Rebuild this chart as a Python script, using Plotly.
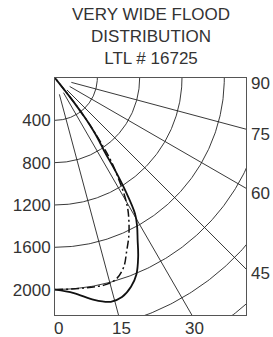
import numpy as np
import plotly.graph_objects as go

# ---- data ----
title_lines = ["VERY WIDE FLOOD", "DISTRIBUTION", "LTL # 16725"]

candela_ticks = [400, 800, 1200, 1600, 2000]
arc_levels = [400, 800, 1200, 1600, 2000, 2400, 2800]
ray_angles = [15, 30, 45, 60, 75]
right_labels = ["90", "75", "60", "45"]
right_label_angles = [90, 75, 60, 45]
bottom_labels = ["0", "15", "30"]
bottom_label_angles = [0, 15, 30]

solid_angles = [0, 5, 10, 14, 17, 20, 22.5, 25, 27, 29, 30.5, 32, 33, 34, 35, 36, 37, 38, 39]
solid_cd = [2000, 2040, 2130, 2180, 2165, 2100, 2010, 1860, 1720, 1600, 1490, 1250, 1050, 830, 730, 620, 480, 280, 0]

dash_angles = [0, 8, 14, 17, 20, 22.5, 25, 27, 29, 30.5, 32, 34, 35, 36, 37, 38, 39]
dash_cd = [2000, 2005, 2010, 1985, 1900, 1770, 1650, 1540, 1420, 1300, 1150, 950, 800, 650, 480, 280, 0]

# ---- layout constants ----
XMAX = 1805
YMAX = 2240
FONT = "Liberation Sans"
TXT = "#333333"


def polar_xy(angles_deg, r):
    a = np.radians(np.asarray(angles_deg, dtype=float))
    r = np.asarray(r, dtype=float)
    return r * np.sin(a), r * np.cos(a)


fig = go.Figure()

# concentric arcs
th = np.linspace(0, 90, 181)
for lvl in arc_levels:
    x, y = polar_xy(th, np.full_like(th, lvl))
    fig.add_trace(go.Scatter(x=x, y=y, mode="lines", line=dict(color="#222222", width=0.9),
                             hoverinfo="skip", showlegend=False))

# radial lines
for ang in ray_angles:
    x, y = polar_xy([ang, ang], [160, 4000])
    fig.add_trace(go.Scatter(x=x, y=y, mode="lines", line=dict(color="#222222", width=0.9),
                             hoverinfo="skip", showlegend=False))

# distribution curves
xs, ys = polar_xy(solid_angles, solid_cd)
fig.add_trace(go.Scatter(x=xs, y=ys, mode="lines", line=dict(color="#111111", width=1.8, shape="spline"),
                         showlegend=False))
xd, yd = polar_xy(dash_angles, dash_cd)
fig.add_trace(go.Scatter(x=xd, y=yd, mode="lines",
                         line=dict(color="#111111", width=1.5, shape="spline", dash="8px,3px,2px,3px"),
                         showlegend=False))

annotations = []
annotations.append(dict(text="<br>".join(title_lines), xref="paper", yref="paper",
                        x=0.5, y=1 + (78 - 36.7) / 237, xanchor="center", yanchor="middle",
                        showarrow=False, font=dict(family=FONT, size=17, color=TXT)))

for lab, ang in zip(right_labels, right_label_angles):
    yv = XMAX / np.tan(np.radians(ang)) if ang < 90 else 0
    annotations.append(dict(text=lab, x=XMAX, y=yv, xref="x", yref="y", xanchor="left",
                            yanchor="middle", xshift=3, yshift=-5, showarrow=False,
                            font=dict(family=FONT, size=17, color=TXT)))

for lab, ang in zip(bottom_labels, bottom_label_angles):
    xv = YMAX * np.tan(np.radians(ang))
    annotations.append(dict(text=lab, x=xv, y=YMAX, xref="x", yref="y", xanchor="center",
                            yanchor="middle", xshift=3, yshift=-13, showarrow=False,
                            font=dict(family=FONT, size=17, color=TXT)))

fig.update_layout(
    width=273, height=337,
    margin=dict(l=55, r=27, t=78, b=22, pad=0),
    paper_bgcolor="white", plot_bgcolor="white",
    annotations=annotations,
    xaxis=dict(range=[0, XMAX], showgrid=False, zeroline=False, showline=True, mirror=True,
               linecolor="#555555", linewidth=1, showticklabels=False, ticks="",
               automargin=False),
    yaxis=dict(range=[YMAX, 0], showgrid=False, zeroline=False, showline=True, mirror=True,
               linecolor="#555555", linewidth=1, tickvals=candela_ticks,
               ticktext=[str(v) for v in candela_ticks], ticks="", automargin=False,
               tickfont=dict(family=FONT, size=17, color=TXT)),
)

fig.write_html("out.html", config={"displayModeBar": False},
               post_script="document.body.style.margin='0px';document.body.style.overflow='hidden';")
